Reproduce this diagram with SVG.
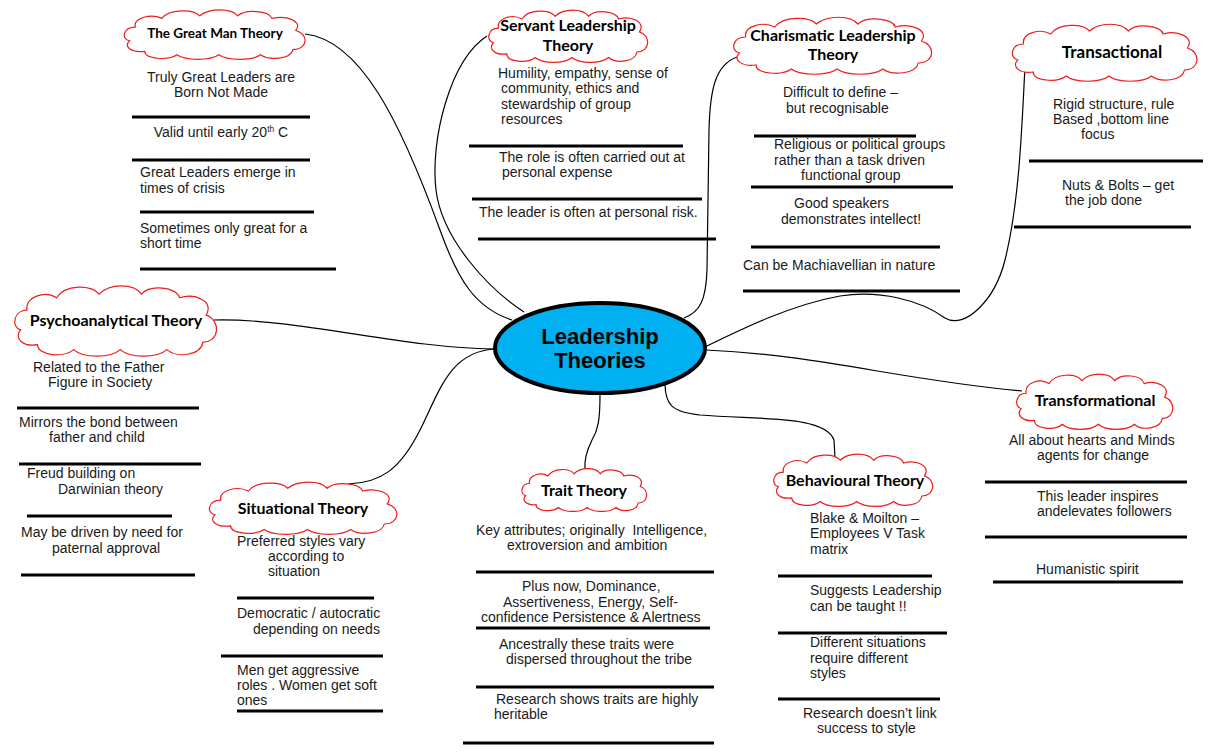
<svg xmlns="http://www.w3.org/2000/svg" xmlns:xlink="http://www.w3.org/1999/xlink" width="1210" height="753" viewBox="0 0 1210 753">
<style>
.t{font-family:"Liberation Sans",Arial,sans-serif;font-size:14px;fill:#1a1a1a}
.h{font-family:Lato,"Open Sans",sans-serif;font-weight:bold;font-size:16px;fill:#000;text-anchor:middle}
.c{text-anchor:middle}
.bar{stroke:#000;stroke-width:3;fill:none}
.con{stroke:#000;stroke-width:1.2;fill:none}
</style>
<defs>
<symbol id="cloud" viewBox="0 0 200 60" preserveAspectRatio="none">
<path vector-effect="non-scaling-stroke" fill="#fff" stroke="#ee1c1c" stroke-width="1.2" d="M10 38 C1 36 3 22 16 22 C14 11 33 6 44 12 C52 1 77 1 84 9 C94 0 117 0 124 9 C132 1 157 3 160 12 C175 8 193 15 185 26 C199 30 198 48 182 48 C180 59 157 61 148 54 C139 61 113 61 104 54 C95 61 69 61 60 54 C51 61 26 59 26 50 C13 52 3 45 10 38 Z"/>
</symbol>
</defs>
<rect width="1210" height="753" fill="#fff"/>
<g id="connectors">
<path class="con" d="M305 34 C360 40 400 120 440 230 C458 280 475 308 512 320"/>
<path class="con" d="M487 36 C450 60 430 140 436 190 C442 240 490 290 524 312"/>
<path class="con" d="M737 57 C715 65 710 90 709 130 L707 270 C706 300 700 312 684 318"/>
<path class="con" d="M1025 67 C1022 120 1020 200 1005 260 C995 300 965 330 945 318 C920 300 880 290 840 296 C790 305 740 330 705 347"/>
<path class="con" d="M706 350 C820 355 900 380 1022 391"/>
<path class="con" d="M665 383 C665 405 672 412 700 415 C760 420 825 415 834 440 L835 458"/>
<path class="con" d="M600 395 C600 420 598 430 592 440 C586 452 584 460 585 470"/>
<path class="con" d="M494 349 C450 352 440 390 420 430 C400 470 380 483 348 484"/>
<path class="con" d="M214 320 C300 318 400 348 494 349"/>
</g>
<g id="center">
<ellipse cx="600" cy="348" rx="105" ry="45" fill="#00b0f0" stroke="#000" stroke-width="4"/>
<text x="600" y="344" font-family="'Liberation Sans',Arial,sans-serif" font-weight="bold" font-size="22" text-anchor="middle" fill="#000">Leadership</text>
<text x="600" y="368" font-family="'Liberation Sans',Arial,sans-serif" font-weight="bold" font-size="22" text-anchor="middle" fill="#000">Theories</text>
</g>
<g id="great-man">
<use href="#cloud" x="120" y="8" width="190" height="52"/>
<text class="h" x="215" y="38" style="font-size:13.5px">The Great Man Theory</text>
<text class="t c" x="221" y="82">Truly Great Leaders are</text>
<text class="t c" x="221" y="97">Born Not Made</text>
<line class="bar" x1="132" y1="117" x2="310" y2="117"/>
<text class="t c" x="221" y="137">Valid until early 20<tspan font-size="8.5" dy="-5">th</tspan><tspan dy="5"> C</tspan></text>
<line class="bar" x1="132" y1="160" x2="310" y2="160"/>
<text class="t" x="140" y="177">Great Leaders emerge in</text>
<text class="t" x="140" y="193">times of crisis</text>
<line class="bar" x1="140" y1="212" x2="314" y2="212"/>
<text class="t" x="140" y="233">Sometimes only great for a</text>
<text class="t" x="140" y="248">short time</text>
<line class="bar" x1="140" y1="269" x2="336" y2="269"/>
</g>
<g id="servant">
<use href="#cloud" x="485" y="8" width="167" height="55"/>
<text class="h" x="568" y="31">Servant Leadership</text>
<text class="h" x="568" y="51">Theory</text>
<text class="t" x="498" y="78">Humility, empathy, sense of</text>
<text class="t" x="501" y="93">community, ethics and</text>
<text class="t" x="501" y="109">stewardship of group</text>
<text class="t" x="501" y="124">resources</text>
<line class="bar" x1="469" y1="146" x2="683" y2="146"/>
<text class="t" x="499" y="162">The role is often carried out at</text>
<text class="t" x="502" y="177">personal expense</text>
<line class="bar" x1="472" y1="199" x2="702" y2="199"/>
<text class="t" x="479" y="217">The leader is often at personal risk.</text>
<line class="bar" x1="478" y1="239" x2="716" y2="239"/>
</g>
<g id="charismatic">
<use href="#cloud" x="729" y="15" width="208" height="60"/>
<text class="h" x="833" y="41">Charismatic Leadership</text>
<text class="h" x="833" y="60">Theory</text>
<text class="t" x="783" y="97">Difficult to define –</text>
<text class="t" x="786" y="113">but recognisable</text>
<line class="bar" x1="754" y1="136" x2="916" y2="136"/>
<text class="t" x="774" y="149">Religious or political groups</text>
<text class="t" x="774" y="165">rather than a task driven</text>
<text class="t" x="801" y="180">functional group</text>
<line class="bar" x1="751" y1="187" x2="953" y2="187"/>
<text class="t" x="794" y="208">Good speakers</text>
<text class="t" x="781" y="224">demonstrates intellect!</text>
<line class="bar" x1="751" y1="247" x2="940" y2="247"/>
<text class="t" x="743" y="270">Can be Machiavellian in nature</text>
<line class="bar" x1="743" y1="291" x2="960" y2="291"/>
</g>
<g id="transactional">
<use href="#cloud" x="1008" y="22" width="194" height="60"/>
<text class="h" x="1112" y="58" style="font-size:17px">Transactional</text>
<text class="t" x="1053" y="109">Rigid structure, rule</text>
<text class="t" x="1053" y="124">Based ,bottom line</text>
<text class="t" x="1081" y="139">focus</text>
<line class="bar" x1="1029" y1="161" x2="1203" y2="161"/>
<text class="t" x="1062" y="190">Nuts &amp; Bolts – get</text>
<text class="t" x="1065" y="205">the job done</text>
<line class="bar" x1="1014" y1="227" x2="1191" y2="227"/>
</g>
<g id="psychoanalytical">
<use href="#cloud" x="10" y="283" width="212" height="74"/>
<text class="h" x="116" y="326">Psychoanalytical Theory</text>
<text class="t" x="33" y="372">Related to the Father</text>
<text class="t" x="48" y="387">Figure in Society</text>
<line class="bar" x1="17" y1="408" x2="199" y2="408"/>
<text class="t" x="19" y="427">Mirrors the bond between</text>
<text class="t" x="49" y="442">father and child</text>
<line class="bar" x1="19" y1="464" x2="201" y2="464"/>
<text class="t" x="27" y="478">Freud building on</text>
<text class="t" x="58" y="494">Darwinian theory</text>
<line class="bar" x1="27" y1="516" x2="172" y2="516"/>
<text class="t" x="21" y="537">May be driven by need for</text>
<text class="t" x="52" y="553">paternal approval</text>
<line class="bar" x1="21" y1="575" x2="195" y2="575"/>
</g>
<g id="transformational">
<use href="#cloud" x="1013" y="372" width="164" height="58"/>
<text class="h" x="1095" y="406">Transformational</text>
<text class="t" x="1009" y="445">All about hearts and Minds</text>
<text class="t" x="1037" y="460">agents for change</text>
<line class="bar" x1="985" y1="482" x2="1187" y2="482"/>
<text class="t" x="1037" y="501">This leader inspires</text>
<text class="t" x="1037" y="516">andelevates followers</text>
<line class="bar" x1="985" y1="537" x2="1187" y2="537"/>
<text class="t" x="1036" y="574">Humanistic spirit</text>
<line class="bar" x1="993" y1="582" x2="1183" y2="582"/>
</g>
<g id="situational">
<use href="#cloud" x="205" y="480" width="197" height="55"/>
<text class="h" x="303" y="514">Situational Theory</text>
<text class="t" x="237" y="546">Preferred styles vary</text>
<text class="t" x="268" y="561">according to</text>
<text class="t" x="268" y="576">situation</text>
<line class="bar" x1="237" y1="598" x2="374" y2="598"/>
<text class="t" x="237" y="618">Democratic / autocratic</text>
<text class="t" x="253" y="634">depending on needs</text>
<line class="bar" x1="221" y1="656" x2="383" y2="656"/>
<text class="t" x="237" y="675">Men get aggressive</text>
<text class="t" x="237" y="690">roles . Women get soft</text>
<text class="t" x="237" y="705">ones</text>
<line class="bar" x1="237" y1="711" x2="383" y2="711"/>
</g>
<g id="trait">
<use href="#cloud" x="519" y="467" width="131" height="45"/>
<text class="h" x="584" y="496">Trait Theory</text>
<text class="t" x="476" y="535" style="white-space:pre">Key attributes; originally  Intelligence,</text>
<text class="t" x="507" y="550">extroversion and ambition</text>
<line class="bar" x1="476" y1="572" x2="714" y2="572"/>
<text class="t" x="522" y="591">Plus now, Dominance,</text>
<text class="t" x="503" y="607">Assertiveness, Energy, Self-</text>
<text class="t" x="481" y="622">confidence Persistence &amp; Alertness</text>
<line class="bar" x1="476" y1="628" x2="710" y2="628"/>
<text class="t" x="499" y="649">Ancestrally these traits were</text>
<text class="t" x="506" y="664">dispersed throughout the tribe</text>
<line class="bar" x1="476" y1="687" x2="714" y2="687"/>
<text class="t" x="496" y="704">Research shows traits are highly</text>
<text class="t" x="494" y="719">heritable</text>
<line class="bar" x1="463" y1="743" x2="714" y2="743"/>
</g>
<g id="behavioural">
<use href="#cloud" x="770" y="452" width="167" height="55"/>
<text class="h" x="855" y="486">Behavioural Theory</text>
<text class="t" x="810" y="523">Blake &amp; Moilton –</text>
<text class="t" x="810" y="538">Employees V Task</text>
<text class="t" x="810" y="554">matrix</text>
<line class="bar" x1="778" y1="576" x2="932" y2="576"/>
<text class="t" x="810" y="595">Suggests Leadership</text>
<text class="t" x="810" y="611">can be taught !!</text>
<line class="bar" x1="778" y1="633" x2="947" y2="633"/>
<text class="t" x="810" y="647">Different situations</text>
<text class="t" x="810" y="663">require different</text>
<text class="t" x="810" y="678">styles</text>
<line class="bar" x1="778" y1="699" x2="940" y2="699"/>
<text class="t" x="803" y="718">Research doesn’t link</text>
<text class="t" x="817" y="733">success to style</text>
</g>
</svg>
